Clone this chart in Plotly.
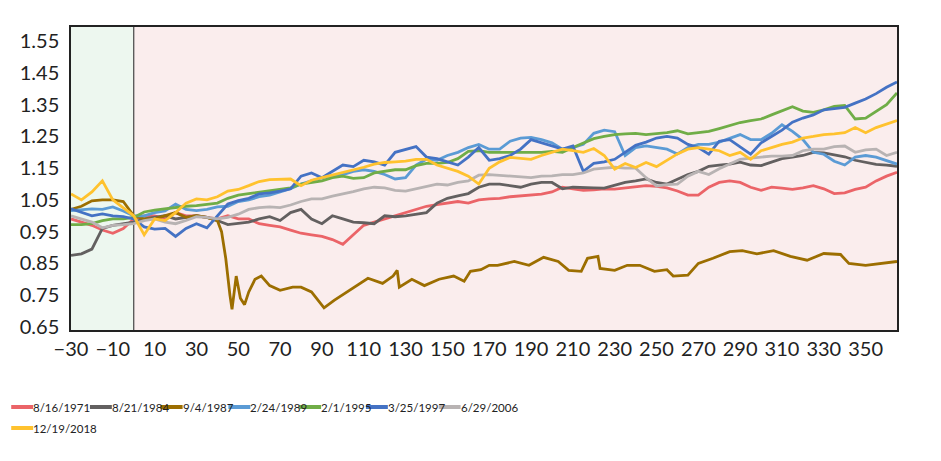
import plotly.graph_objects as go

DAYS = list(range(-30, 366, 5))

RED_1971 = [0.99, 0.98, 0.97, 0.955, 0.945, 0.96, 0.99,
            1.0, 1.0, 0.99, 1.01, 1.0, 1.0, 0.995, 0.99, 1.0, 0.99, 0.99, 0.975, 0.97, 0.965,
            0.955, 0.945, 0.94, 0.935, 0.925, 0.91, 0.94, 0.97, 0.98, 0.99, 1.0, 1.01, 1.02,
            1.03, 1.035, 1.04, 1.045, 1.04, 1.05, 1.053, 1.055, 1.06, 1.062, 1.065, 1.068,
            1.075, 1.09, 1.085, 1.08, 1.082, 1.085, 1.084, 1.088, 1.09, 1.095, 1.093, 1.088,
            1.078, 1.065, 1.065, 1.09, 1.105, 1.11, 1.105, 1.09, 1.08, 1.09, 1.087, 1.083,
            1.088, 1.095, 1.085, 1.07, 1.072, 1.083, 1.09, 1.11, 1.125, 1.137]

GRAY_1984 = [0.875, 0.88, 0.895, 0.96, 0.97, 0.975, 0.98,
             0.99, 0.995, 1.0, 0.99, 0.995, 1.0, 0.995, 0.985, 0.972, 0.975, 0.98, 0.99, 0.997,
             0.985, 1.01, 1.02, 0.99, 0.975, 1.0, 0.99, 0.98, 0.978, 0.975, 1.0, 0.997, 1.0,
             1.006, 1.01, 1.04, 1.055, 1.063, 1.07, 1.09, 1.1, 1.1, 1.095, 1.09, 1.1, 1.105,
             1.105, 1.085, 1.09, 1.09, 1.088, 1.087, 1.095, 1.105, 1.11, 1.116, 1.105, 1.1,
             1.115, 1.13, 1.14, 1.156, 1.16, 1.163, 1.169, 1.16, 1.158, 1.17, 1.18, 1.185,
             1.19, 1.2, 1.198, 1.192, 1.186, 1.175, 1.168, 1.162, 1.16, 1.156]

BROWN_DAYS = [-30, -25, -20, -15, -10, -5, 0,
              5, 10, 15, 20, 25, 30, 35, 40,
              42, 44, 46, 47, 49, 51, 53, 55, 58, 61, 65, 70, 76, 80, 85, 88, 91, 96, 101,
              106, 112, 119, 124, 126, 127,
              133, 139, 146, 153, 158, 161, 166, 170, 174, 182, 189, 196, 203, 208, 214,
              217, 222, 223, 230, 236, 242, 249, 255, 258, 265, 270,
              277, 285, 291, 298, 306, 314, 322, 330, 338, 342, 350, 357, 365]
BROWN_1987 = [1.02, 1.03, 1.047, 1.05, 1.05, 1.045, 1.0,
              0.99, 0.99, 1.0, 1.01, 0.995, 1.0, 0.995, 0.985,
              0.95, 0.866, 0.75, 0.705, 0.81, 0.74, 0.72, 0.76, 0.80, 0.81, 0.78, 0.765,
              0.775, 0.775, 0.76, 0.735, 0.71, 0.734, 0.756, 0.778, 0.803, 0.787, 0.81,
              0.828, 0.775,
              0.80, 0.78, 0.80, 0.81, 0.794, 0.825, 0.83, 0.844, 0.844, 0.856, 0.844, 0.869,
              0.856, 0.828, 0.825, 0.866, 0.872, 0.834, 0.828, 0.844, 0.844, 0.825, 0.83,
              0.81, 0.813, 0.85,
              0.866, 0.887, 0.89, 0.88, 0.89, 0.872, 0.86, 0.881, 0.878, 0.85, 0.844, 0.85,
              0.856]

LBLUE_1989 = [1.016, 1.02, 1.022, 1.02, 1.028, 1.015, 1.0,
              1.0, 1.01, 1.015, 1.037, 1.02, 1.016, 1.02, 1.028, 1.03, 1.045, 1.05, 1.06,
              1.065, 1.075, 1.085, 1.1, 1.11, 1.12, 1.125, 1.13, 1.14, 1.145, 1.14, 1.13,
              1.116, 1.12, 1.16, 1.178, 1.175, 1.19, 1.2, 1.215, 1.225, 1.21, 1.21, 1.235,
              1.245, 1.247, 1.24, 1.23, 1.21, 1.215, 1.225, 1.26, 1.27, 1.265, 1.19, 1.215,
              1.22, 1.215, 1.21, 1.195, 1.215, 1.225, 1.225, 1.232, 1.245, 1.256, 1.24, 1.24,
              1.26, 1.287, 1.266, 1.24, 1.2, 1.194, 1.172, 1.16, 1.185, 1.19, 1.185, 1.175,
              1.163]

GREEN_1995 = [0.972, 0.972, 0.975, 0.985, 0.99, 0.99, 0.995,
              1.012, 1.018, 1.022, 1.027, 1.03, 1.032, 1.035, 1.04, 1.055, 1.065, 1.07,
              1.075, 1.08, 1.084, 1.088, 1.1, 1.105, 1.11, 1.12, 1.125, 1.118, 1.12, 1.135,
              1.14, 1.145, 1.145, 1.158, 1.165, 1.165, 1.168, 1.18, 1.203, 1.205, 1.2, 1.2,
              1.2, 1.2, 1.198, 1.2, 1.203, 1.2, 1.215, 1.23, 1.243, 1.25, 1.256, 1.258, 1.26,
              1.256, 1.258, 1.262, 1.268, 1.258, 1.262, 1.266, 1.275, 1.285, 1.294, 1.3,
              1.305, 1.318, 1.33, 1.344, 1.33, 1.326, 1.334, 1.345, 1.348, 1.305, 1.308,
              1.328, 1.35, 1.387]

BLUE_1997 = [1.022, 1.01, 1.0, 1.006, 1.0, 0.997, 0.99,
             0.965, 0.958, 0.96, 0.935, 0.96, 0.975, 0.962, 1.0, 1.037, 1.048, 1.055, 1.069,
             1.072, 1.078, 1.085, 1.125, 1.135, 1.12, 1.14, 1.16, 1.155, 1.175, 1.17, 1.16,
             1.2, 1.21, 1.218, 1.185, 1.18, 1.17, 1.16, 1.185, 1.215, 1.175, 1.18, 1.19,
             1.21, 1.24, 1.23, 1.222, 1.21, 1.22, 1.14, 1.165, 1.17, 1.178, 1.2, 1.222,
             1.232, 1.245, 1.25, 1.245, 1.225, 1.215, 1.194, 1.235, 1.24, 1.216, 1.194,
             1.23, 1.25, 1.27, 1.295, 1.308, 1.318, 1.334, 1.338, 1.342, 1.355, 1.368,
             1.385, 1.405, 1.422]

LGRAY_2006 = [1.0, 0.99, 0.98, 0.962, 0.97, 0.972, 0.975,
              0.985, 0.99, 0.98, 0.975, 0.985, 0.997, 0.995, 0.99, 0.995, 1.005, 1.02, 1.026,
              1.028, 1.026, 1.034, 1.045, 1.053, 1.053, 1.062, 1.068, 1.076, 1.085, 1.09,
              1.088, 1.08, 1.078, 1.085, 1.092, 1.1, 1.097, 1.105, 1.11, 1.128, 1.13, 1.128,
              1.124, 1.122, 1.12, 1.125, 1.126, 1.13, 1.13, 1.135, 1.147, 1.15, 1.153, 1.15,
              1.15, 1.12, 1.094, 1.098, 1.1, 1.125, 1.14, 1.13, 1.148, 1.163, 1.178, 1.182,
              1.185, 1.188, 1.188, 1.19, 1.205, 1.21, 1.21, 1.218, 1.22, 1.2, 1.208, 1.21,
              1.19, 1.2]

YELLOW_2018 = [1.069, 1.05, 1.075, 1.11, 1.05, 1.025, 1.0,
               0.94, 0.99, 0.985, 1.01, 1.04, 1.053, 1.05, 1.06, 1.078, 1.083, 1.095, 1.108,
               1.114, 1.116, 1.116, 1.095, 1.112, 1.12, 1.128, 1.135, 1.145, 1.153, 1.163,
               1.168, 1.17, 1.172, 1.178, 1.178, 1.16, 1.15, 1.14, 1.125, 1.1, 1.15, 1.17,
               1.184, 1.18, 1.178, 1.19, 1.2, 1.21, 1.205, 1.2, 1.212, 1.19, 1.147, 1.165,
               1.152, 1.168, 1.155, 1.175, 1.195, 1.21, 1.215, 1.21, 1.205, 1.19, 1.2, 1.178,
               1.205, 1.215, 1.225, 1.232, 1.245, 1.25, 1.256, 1.258, 1.262, 1.278, 1.262,
               1.278, 1.29, 1.3]

SERIES_NAMES = ["8/16/1971", "8/21/1984", "9/4/1987", "2/24/1989",
                "2/1/1995", "3/25/1997", "6/29/2006", "12/19/2018"]
Y_TICKS = [0.65, 0.75, 0.85, 0.95, 1.05, 1.15, 1.25, 1.35, 1.45, 1.55]
X_TICKS = list(range(-30, 366, 20))

COLORS = ["#EB6468", "#636060", "#9C6E00", "#5B9BD5",
          "#70AD47", "#4472C4", "#B8B3B3", "#FFC22E"]

series = [
    (DAYS, RED_1971), (DAYS, GRAY_1984), (BROWN_DAYS, BROWN_1987), (DAYS, LBLUE_1989),
    (DAYS, GREEN_1995), (DAYS, BLUE_1997), (DAYS, LGRAY_2006), (DAYS, YELLOW_2018),
]

# the page body adds an 8px margin, so the figure is sized to fit inside the window
OFF = 8
W, H = 941 - OFF, 461 - OFF
ML, MR, MT, MB = 68 - OFF, 44, 27 - OFF, 131
PW, PH = W - ML - MR, H - MT - MB

fig = go.Figure()
for name, (xs, ys), color in zip(SERIES_NAMES, series, COLORS):
    assert len(xs) == len(ys), name
    fig.add_trace(go.Scatter(x=xs, y=ys, mode="lines", name=name, showlegend=False,
                             line=dict(color=color, width=2.8)))

X_MIN, X_SPLIT, X_MAX = -30, 0, 365
fig.add_shape(type="rect", xref="x", yref="paper", x0=X_MIN, x1=X_SPLIT, y0=0, y1=1,
              fillcolor="#EDF7EF", line_width=0, layer="below")
fig.add_shape(type="rect", xref="x", yref="paper", x0=X_SPLIT, x1=X_MAX, y0=0, y1=1,
              fillcolor="#FAEDED", line_width=0, layer="below")
fig.add_shape(type="line", xref="x", yref="paper", x0=X_SPLIT, x1=X_SPLIT, y0=0, y1=1,
              line=dict(color="#444444", width=1.2), layer="below")

# legend drawn below the chart (window pixel layout: line start, row)
LEGEND_POS = [(8, 0), (87, 0), (158, 0), (226, 0), (297, 0), (364, 0), (437, 0), (8, 1)]
ROW_Y = [407, 428]


def px_x(px):
    return (px - OFF - ML) / PW


def px_y(py):
    return (H - MB - (py - OFF)) / PH


for name, color, (lx, row) in zip(SERIES_NAMES, COLORS, LEGEND_POS):
    yy = px_y(ROW_Y[row])
    fig.add_shape(type="line", xref="paper", yref="paper",
                  x0=px_x(lx), x1=px_x(lx + 22), y0=yy, y1=yy,
                  line=dict(color=color, width=4))
    fig.add_annotation(xref="paper", yref="paper", x=px_x(lx + 22), y=yy,
                       xanchor="left", yanchor="middle", text=name, showarrow=False,
                       borderpad=0, xshift=-1,
                       font=dict(size=11.5, family="Lato, sans-serif", color="#222222"))

fig.update_layout(
    width=W, height=H,
    margin=dict(l=ML, r=MR, t=MT, b=MB),
    paper_bgcolor="white", plot_bgcolor="white",
    font=dict(family="Lato, sans-serif", color="#222222"),
    showlegend=False,
)
fig.update_xaxes(range=[X_MIN, X_MAX], tickvals=X_TICKS, showgrid=False, zeroline=False,
                 showline=True, linecolor="#222222", linewidth=1.5, mirror=True,
                 ticks="", tickfont=dict(size=20, color="#222222"))
fig.update_yaxes(range=[0.64, 1.595], tickvals=Y_TICKS, tickformat=".2f", showgrid=False,
                 zeroline=False, showline=True, linecolor="#222222", linewidth=1.5,
                 mirror=True, ticks="", ticklabelstandoff=6,
                 tickfont=dict(size=20, color="#222222"))

fig.write_html("out.html")
